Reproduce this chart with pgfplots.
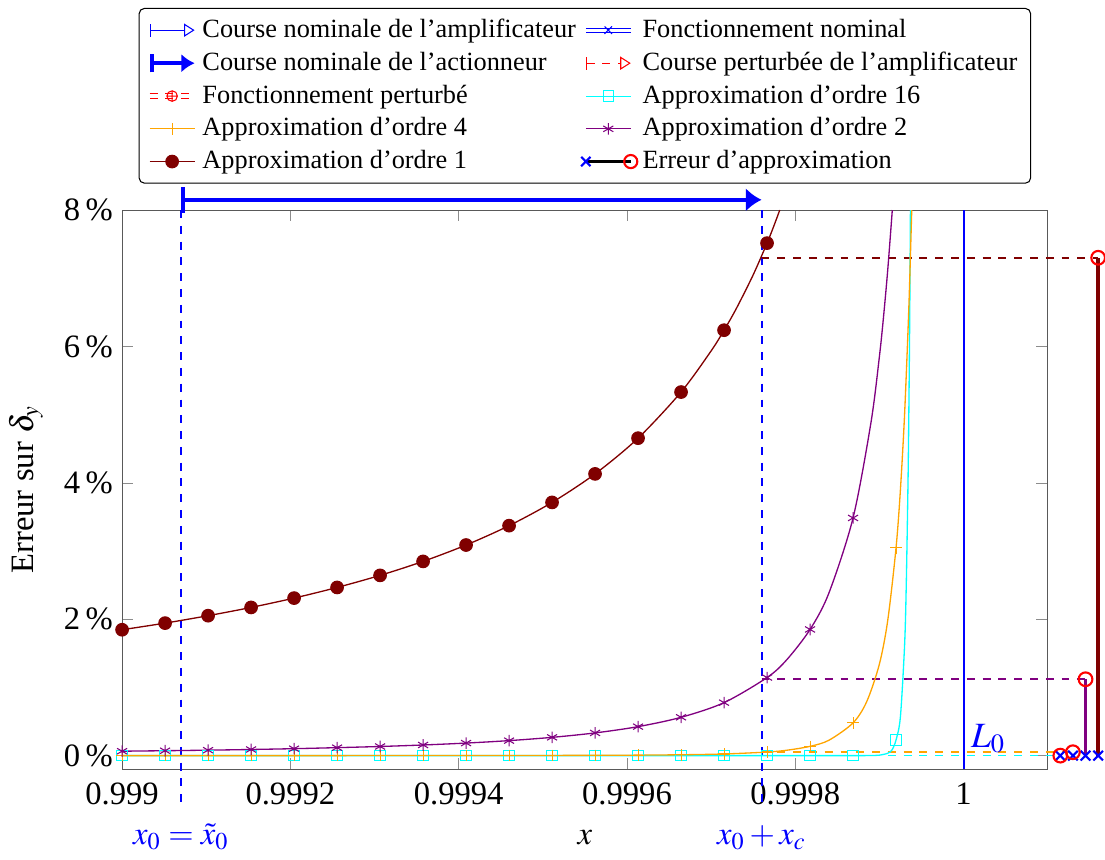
\documentclass[border=0pt]{standalone}
\usepackage{mathptmx}
\usepackage{fontspec}
\setmainfont{Liberation Serif}
\usepackage{pgfplots}
\pgfplotsset{compat=1.18}
\usetikzlibrary{arrows.meta}
\definecolor{maroon}{RGB}{128,0,0}
\definecolor{vio}{RGB}{128,0,128}
\definecolor{orng}{RGB}{255,165,0}
\definecolor{cyn}{RGB}{0,255,255}
\definecolor{blu}{RGB}{0,0,255}
\definecolor{rd}{RGB}{255,0,0}
\newcommand{\tf}{\fontsize{12.4}{14}\selectfont}
\begin{document}
\begin{tikzpicture}
\begin{axis}[
  scale only axis, width=351.7pt, height=212.5pt,
  xmin=0, xmax=11, ymin=-0.2, ymax=8,
  clip=false,
  xtick={0,2,4,6,8,10}, xticklabels={0.999,0.9992,0.9994,0.9996,0.9998,1},
  ytick={0,2,4,6,8}, yticklabels={0\,\%,2\,\%,4\,\%,6\,\%,8\,\%},
  ticklabel style={font=\tf},
  xticklabel style={yshift=-1.5pt},
  axis line style={black!65},
  tick style={black!45},
  xlabel={$x$},
  xlabel style={font=\tf, at={(axis cs:5.5,-1.31)}, anchor=base},
  ylabel={Erreur sur $\delta_y$},
  ylabel style={font=\tf, at={(rel axis cs:-0.104,0.5)}, anchor=center},
  legend columns=2,
  legend cell align=left,
  legend style={font=\normalsize, draw=black, rounded corners=2pt,
    at={(0.5,1)}, anchor=south, yshift=10pt,
    /tikz/every even column/.append style={column sep=0pt}},
]
% legend
\addlegendimage{legend image code/.code={\draw[blu,{Bar[width=5pt]}-{Triangle[open,length=4pt,width=5pt]}] (0cm,0cm) -- (0.6cm,0cm);}}
\addlegendentry{Course nominale de l'amplificateur}
\addlegendimage{legend image code/.code={\draw[blu,double distance=1.2pt] (0cm,0cm) -- (0.6cm,0cm); \draw[blu,mark size=2pt] plot[mark=x] coordinates {(0.3cm,0cm)};}}
\addlegendentry{Fonctionnement nominal}
\addlegendimage{legend image code/.code={\draw[blu,line width=1.5pt,{Bar[width=7pt]}-{Latex[length=5pt,width=7pt]}] (0cm,0cm) -- (0.6cm,0cm);}}
\addlegendentry{Course nominale de l'actionneur}
\addlegendimage{legend image code/.code={\draw[rd,dashed,{Bar[width=5pt]}-{Triangle[open,length=4pt,width=5pt]}] (0cm,0cm) -- (0.6cm,0cm);}}
\addlegendentry{Course perturbée de l'amplificateur}
\addlegendimage{legend image code/.code={\draw[rd,dashed,double distance=1.2pt] (0cm,0cm) -- (0.6cm,0cm); \draw[rd,mark size=2pt] plot[mark=oplus] coordinates {(0.3cm,0cm)};}}
\addlegendentry{Fonctionnement perturbé}
\addlegendimage{cyn, mark=square, mark size=2pt}
\addlegendentry{Approximation d'ordre 16}
\addlegendimage{orng, mark=+, mark size=2.2pt}
\addlegendentry{Approximation d'ordre 4}
\addlegendimage{vio, mark=asterisk, mark size=2.2pt}
\addlegendentry{Approximation d'ordre 2}
\addlegendimage{maroon, mark=*, mark size=2.4pt}
\addlegendentry{Approximation d'ordre 1}
\addlegendimage{legend image code/.code={\draw[black,line width=1.2pt] (0cm,0cm) -- (0.6cm,0cm); \draw[blu,thick,mark size=2.5pt] plot[mark=x] coordinates {(0cm,0cm)}; \draw[rd,thick,mark size=2.5pt] plot[mark=o] coordinates {(0.6cm,0cm)};}}
\addlegendentry{Erreur d'approximation}

% reference lines
\addplot[blu, dashed, line width=0.75pt, forget plot] coordinates {(0.7,8) (0.7,-0.71)};
\addplot[blu, dashed, line width=0.75pt, forget plot] coordinates {(7.6,8) (7.6,-0.71)};
\addplot[blu, line width=0.75pt, forget plot] coordinates {(10,-0.2) (10,8)};
\addplot[blu, line width=1.5pt, {Bar[width=10pt]}-{Latex[length=6pt,width=9pt]}, forget plot] coordinates {(0.7,8.15) (7.6,8.15)};

% error levels at x0+xc
\addplot[maroon, dashed, line width=0.6pt, forget plot] coordinates {(7.6,7.3) (11.6,7.3)};
\addplot[vio, dashed, line width=0.6pt, forget plot] coordinates {(7.6,1.12) (11.45,1.12)};
\addplot[orng, dashed, line width=0.6pt, forget plot] coordinates {(7.6,0.05) (11.3,0.05)};
\addplot[cyn, dashed, line width=0.6pt, forget plot] coordinates {(7.6,0) (11.15,0)};

% order 16
\addplot[cyn, smooth, line width=0.5pt, forget plot] coordinates {(0,0) (2,0) (4,0) (6,0) (8,0) (8.5,0.0002) (8.8,0.0004) (8.9,0.0016) (9.0,0.0069) (9.1,0.035) (9.15,0.084) (9.198,0.23) (9.25,0.571) (9.3,1.632) (9.32,2.536) (9.34,3.987) (9.35,5.02) (9.36,6.345) (9.369,8)};
\addplot[cyn, only marks, mark=square, mark size=2pt, forget plot] coordinates {(0,0) (0.511,0) (1.022,0) (1.533,0) (2.044,0) (2.555,0) (3.066,0) (3.577,0) (4.088,0) (4.599,0) (5.11,0) (5.621,0) (6.132,0) (6.643,0) (7.154,0) (7.665,0) (8.176,0) (8.687,0) (9.198,0.23)};

% order 4
\addplot[orng, smooth, line width=0.5pt, forget plot] coordinates {(0,0.0002) (0.511,0.0002) (1.022,0.0003) (1.533,0.0003) (2.044,0.0004) (2.555,0.0005) (3.066,0.0007) (3.577,0.0010) (4.088,0.0014) (4.599,0.0020) (5.11,0.0029) (5.621,0.0045) (6.132,0.0073) (6.643,0.0127) (7.154,0.0242) (7.665,0.0524) (7.9,0.079) (8.176,0.1363) (8.4,0.2256) (8.687,0.480) (8.85,0.793) (9.0,1.342) (9.1,1.989) (9.198,3.048) (9.25,3.900) (9.3,5.019) (9.35,6.569) (9.3845,8)};
\addplot[orng, only marks, mark=+, mark size=2.2pt, forget plot] coordinates {(0,0.0002) (0.511,0.0002) (1.022,0.0003) (1.533,0.0003) (2.044,0.0004) (2.555,0.0005) (3.066,0.0007) (3.577,0.0010) (4.088,0.0014) (4.599,0.0020) (5.11,0.0029) (5.621,0.0045) (6.132,0.0073) (6.643,0.0127) (7.154,0.0242) (7.665,0.0524) (8.176,0.1363) (8.687,0.480) (9.198,3.048)};

% order 2
\addplot[vio, smooth, line width=0.5pt, forget plot] coordinates {(0,0.065) (0.511,0.072) (1.022,0.080) (1.533,0.090) (2.044,0.102) (2.555,0.117) (3.066,0.134) (3.577,0.156) (4.088,0.184) (4.599,0.220) (5.11,0.268) (5.621,0.333) (6.132,0.425) (6.643,0.562) (7.154,0.777) (7.665,1.145) (7.9,1.407) (8.176,1.850) (8.4,2.384) (8.687,3.485) (8.9,4.884) (9.0,5.849) (9.05,6.444) (9.1,7.133) (9.1535,8)};
\addplot[vio, only marks, mark=asterisk, mark size=2.2pt, forget plot] coordinates {(0,0.065) (0.511,0.072) (1.022,0.080) (1.533,0.090) (2.044,0.102) (2.555,0.117) (3.066,0.134) (3.577,0.156) (4.088,0.184) (4.599,0.220) (5.11,0.268) (5.621,0.333) (6.132,0.425) (6.643,0.562) (7.154,0.777) (7.665,1.145) (8.176,1.850) (8.687,3.485)};

% order 1
\addplot[maroon, smooth, line width=0.5pt, forget plot] coordinates {(0,1.846) (0.511,1.943) (1.022,2.052) (1.533,2.173) (2.044,2.310) (2.555,2.466) (3.066,2.643) (3.577,2.848) (4.088,3.088) (4.599,3.372) (5.11,3.713) (5.621,4.131) (6.132,4.655) (6.643,5.331) (7.0,5.934) (7.154,6.238) (7.3,6.556) (7.5,7.049) (7.665,7.515) (7.75,7.780) (7.816,8)};
\addplot[maroon, only marks, mark=*, mark size=2.4pt, forget plot] coordinates {(0,1.846) (0.511,1.943) (1.022,2.052) (1.533,2.173) (2.044,2.310) (2.555,2.466) (3.066,2.643) (3.577,2.848) (4.088,3.088) (4.599,3.372) (5.11,3.713) (5.621,4.131) (6.132,4.655) (6.643,5.331) (7.154,6.238) (7.665,7.515)};

% error stems
\addplot[vio, line width=1.2pt, forget plot] coordinates {(11.45,0) (11.45,1.12)};
\addplot[maroon, line width=1.3pt, forget plot] coordinates {(11.6,0) (11.6,7.3)};
\addplot[blu, thick, only marks, mark=x, mark size=2.6pt, forget plot] coordinates {(11.15,0) (11.3,0) (11.45,0) (11.6,0)};
\addplot[rd, thick, only marks, mark=o, mark size=2.6pt, forget plot] coordinates {(11.15,0) (11.3,0.05) (11.45,1.12) (11.6,7.3)};

\node[blu, anchor=west, font=\fontsize{13.5}{15}\selectfont] at (axis cs:9.98,0.25) {$L_0$};
\node[blu, anchor=base, font=\tf] at (axis cs:0.7,-1.31) {$x_0=\tilde{x}_0$};
\node[blu, anchor=base, font=\tf] at (axis cs:7.6,-1.31) {$x_0+x_c$};
\end{axis}
\path ([shift={(0pt,3pt)}]current bounding box.north west);
\end{tikzpicture}
\end{document}
